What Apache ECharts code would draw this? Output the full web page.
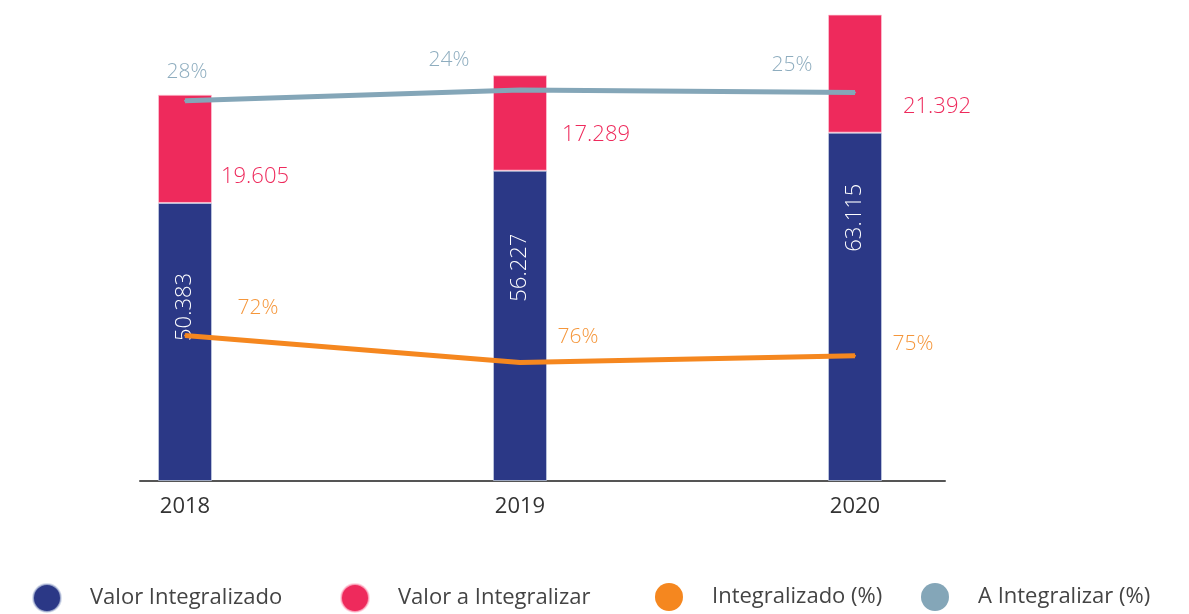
<!DOCTYPE html>
<html>
<head>
<meta charset="utf-8">
<script src="https://cdn.jsdelivr.net/npm/echarts@6/dist/echarts.min.js"></script>
<style>
  html, body { margin: 0; padding: 0; background: #ffffff; }
  #chart { width: 1189px; height: 614px; }
</style>
</head>
<body>
<div id="chart"></div>
<script>
// Values per year
const years = ['2018', '2019', '2020'];
const valorIntegralizado = [50.383, 56.227, 63.115];
const valorAIntegralizar = [19.605, 17.289, 21.392];
const pctIntegralizado = [72, 76, 75];
const pctAIntegralizar = [28, 24, 25];

const seriesNames = ['Valor Integralizado', 'Valor a Integralizar', 'Integralizado (%)', 'A Integralizar (%)'];

// Styling
const FONT = 'Open Sans';
const LABEL_WEIGHT = 300;
const C_BLUE = '#2b3886';
const C_RED = '#ee2a5c';
const C_ORANGE = '#f5871f';
const C_GREY = '#84a6b8';

// Label placement per point (style only)
const blueLabelTop = [104, 97, 85];
const redLabelOffset = [[70, 28], [76, 12], [82, 33]];
const orangeLabelOffset = [[73, -27], [58, -26], [58, -12]];
const greyLabelOffset = [[2, -29], [-71, -30], [-63, -28]];
const legendLeft = [32, 340, 655, 921];

const fmtNum = v => v.toFixed(3);

const chart = echarts.init(document.getElementById('chart'));

const legends = seriesNames.map((name, i) => ({
  data: [name],
  left: legendLeft[i],
  top: 583,
  padding: 0,
  icon: 'circle',
  itemWidth: 28,
  itemHeight: 28,
  textStyle: { fontFamily: FONT, fontSize: 22, color: '#444444', padding: [0, 0, 0, 24] }
}));

chart.setOption({
  animation: false,
  backgroundColor: '#ffffff',
  textStyle: { fontFamily: FONT },
  grid: [
    // plotting area: category centers sit on the years
    { left: 185, right: 334, top: 13, bottom: 133 },
    // baseline that runs past the outer bars
    { left: 140, right: 244, top: 13, bottom: 133 }
  ],
  legend: legends,
  xAxis: [
    {
      type: 'category',
      gridIndex: 0,
      data: years,
      boundaryGap: false,
      axisLine: { show: false },
      axisTick: { show: false },
      splitLine: { show: false },
      axisLabel: { color: '#333333', fontSize: 22, fontFamily: FONT, margin: 15 }
    },
    {
      type: 'value',
      gridIndex: 1,
      min: 0,
      max: 1,
      splitLine: { show: false },
      axisTick: { show: false },
      axisLabel: { show: false },
      axisLine: { show: true, lineStyle: { color: '#555555', width: 2 } }
    }
  ],
  yAxis: [
    { type: 'value', gridIndex: 0, min: 0, max: 84.8, show: false },
    { type: 'value', gridIndex: 0, min: 24.35, max: 93.5, inverse: true, show: false },
    { type: 'value', gridIndex: 0, min: -4.6, max: 169.4, inverse: true, show: false },
    { type: 'value', gridIndex: 1, min: 0, max: 1, show: false }
  ],
  series: [
    {
      name: seriesNames[0],
      type: 'bar',
      stack: 'valor',
      barWidth: 54,
      clip: false,
      z: 2,
      itemStyle: { color: C_BLUE, borderColor: 'rgba(200,210,230,0.7)', borderWidth: 1 },
      data: valorIntegralizado.map((v, i) => ({
        value: v,
        label: {
          show: true,
          position: ['50%', blueLabelTop[i]],
          rotate: 90,
          align: 'center',
          verticalAlign: 'middle',
          color: '#ffffff',
          fontSize: 22,
          fontWeight: LABEL_WEIGHT,
          fontFamily: FONT,
          formatter: () => fmtNum(v)
        }
      }))
    },
    {
      name: seriesNames[1],
      type: 'bar',
      stack: 'valor',
      barWidth: 54,
      clip: false,
      z: 2,
      itemStyle: { color: C_RED, borderColor: 'rgba(255,200,215,0.7)', borderWidth: 1 },
      data: valorAIntegralizar.map((v, i) => ({
        value: v,
        label: {
          show: true,
          position: 'inside',
          offset: redLabelOffset[i],
          color: C_RED,
          fontSize: 22,
          fontWeight: LABEL_WEIGHT,
          fontFamily: FONT,
          formatter: () => fmtNum(v)
        }
      }))
    },
    {
      name: seriesNames[2],
      type: 'line',
      yAxisIndex: 1,
      clip: false,
      z: 3,
      symbol: 'circle',
      symbolSize: 2,
      lineStyle: { color: C_ORANGE, width: 5 },
      itemStyle: { color: C_ORANGE },
      data: pctIntegralizado.map((v, i) => ({
        value: v,
        label: {
          show: true,
          position: 'inside',
          offset: orangeLabelOffset[i],
          color: '#f5963a',
          fontSize: 21,
          fontWeight: LABEL_WEIGHT,
          fontFamily: FONT,
          formatter: () => v + '%'
        }
      }))
    },
    {
      name: seriesNames[3],
      type: 'line',
      yAxisIndex: 2,
      clip: false,
      z: 3,
      symbol: 'circle',
      symbolSize: 2,
      lineStyle: { color: C_GREY, width: 5 },
      itemStyle: { color: C_GREY },
      data: pctAIntegralizar.map((v, i) => ({
        value: v,
        label: {
          show: true,
          position: 'inside',
          offset: greyLabelOffset[i],
          color: '#8eadbf',
          fontSize: 21,
          fontWeight: LABEL_WEIGHT,
          fontFamily: FONT,
          formatter: () => v + '%'
        }
      }))
    }
  ]
});
</script>
</body>
</html>
